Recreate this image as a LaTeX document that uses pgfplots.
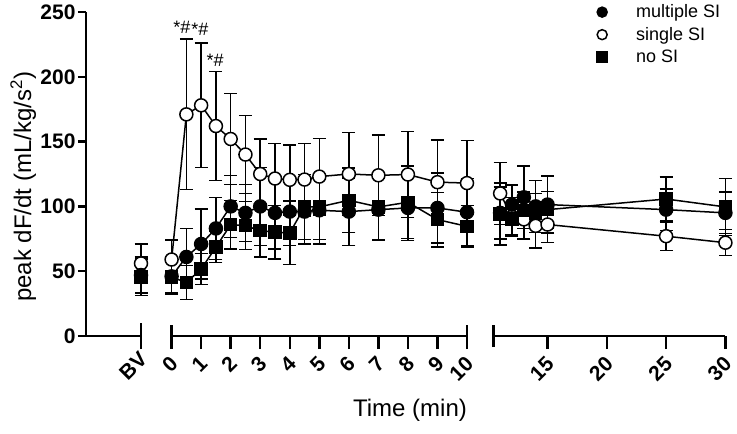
\documentclass[border=0pt]{standalone}
\usepackage{pgfplots}
\pgfplotsset{compat=1.18}
\usepackage{fontspec}
\setmainfont{Liberation Sans}
\begin{document}
\begin{tikzpicture}
\useasboundingbox (0pt,0pt) rectangle (737pt,434pt);
\pgfplotsset{
  seg/.style={
    scale only axis, height=324pt, ymin=0, ymax=250,
    anchor=south west, clip=false,
    axis line style={line width=2.5pt},
    tick style={line width=2.5pt, black},
    tick align=outside,
    major tick length=13pt,
    /pgf/number format/assume math mode=true,
    tick label style={font=\fontsize{21}{24}\selectfont\bfseries},
    xticklabel style={shift={(5pt,-9pt)}, rotate=45, anchor=east},
    extra x tick style={tick align=center, major tick length=22pt},
    extra x tick labels={},
    every axis plot/.append style={line width=1.5pt, black},
  },
  eb/.style={error bars/y dir=both, error bars/y explicit,
    error bars/error bar style={line width=1.5pt, black},
    error bars/error mark options={rotate=90, mark size=6.5pt, line width=1.5pt, black}},
  sSI/.style={mark=*, mark size=6.5pt, mark options={fill=white, draw=black, line width=1.5pt}},
  mSI/.style={mark=*, mark size=6.5pt, mark options={fill=black}},
  nSI/.style={mark=square*, mark size=6pt, mark options={fill=black}},
}
% ---------- segment 1 : BV ----------
\begin{axis}[seg, at={(86pt,98pt)}, width=55pt, xmin=0, xmax=1,
  axis x line*=bottom, axis y line*=left, major tick length=8pt,
  ytick={0,50,...,250}, xtick={1}, xticklabels={BV}, extra x ticks={1},
  extra x tick style={tick align=center, major tick length=26pt},
  yticklabel style={xshift=1pt},
  ylabel={peak dF/dt (mL/kg/s\textsuperscript{2})},
  ylabel style={font=\fontsize{24}{28}\selectfont, at={(axis description cs:-1.14,0.46)}, anchor=center}]
\addplot[sSI, eb, forget plot] table[x=x,y=y,y error=e] {
x y e
1 56 15
};
\addplot[mSI, eb, forget plot] table[x=x,y=y,y error=e] {
x y e
1 47 14
};
\addplot[nSI, eb, forget plot] table[x=x,y=y,y error=e] {
x y e
1 45.4 14
};
\end{axis}
% ---------- segment 2 : 0-10 min ----------
\begin{axis}[seg, at={(171.6pt,98pt)}, width=295.4pt, xmin=0, xmax=10,
  axis x line*=bottom, hide y axis,
  xtick={0,1,...,10}, extra x ticks={0,10},
  xlabel={Time (min)},
  xlabel style={font=\fontsize{24}{28}\selectfont, at={(axis description cs:0.807,-0.228)}, anchor=center}]
\addplot[sSI, eb, forget plot] table[x=x,y=y,y error=e] {
x y e
0 59 15
0.5 171 58
1 178 48
1.5 162 42
2 152 35
2.5 140 30
3 125 27
3.5 121.5 27
4 120.5 27
4.5 120.7 28
5 123 29.5
6 125 32
7 124 31
8 124.6 33
9 118.7 32.5
10 118 33
};
\addplot[mSI, eb, forget plot] table[x=x,y=y,y error=e] {
x y e
0 46 13
0.5 61 22
1 71 27
1.5 83 24
2 100 24
2.5 95 22
3 100 30
3.5 95 28
4 96 26
4.5 96 25
5 97 26
6 96 26
7 97.5 24
8 98.8 25
9 98.8 27
10 95.5 26
};
\addplot[nSI, eb, forget plot] table[x=x,y=y,y error=e] {
x y e
0 45.4 13
0.5 41.3 13
1 51.6 12
1.5 68.6 12
2 85.9 18.6
2.5 85.1 18.5
3 81.3 20.4
3.5 80.2 20.6
4 79.5 24.5
4.5 99.6 25
5 99.6 25
6 104.7 25
7 99.6 25
8 103.2 28
9 89.8 21
10 84.6 16
};
\node[font=\fontsize{18}{20}\selectfont] at (axis cs:0.35,238.4) {*\#};
\node[font=\fontsize{18}{20}\selectfont] at (axis cs:0.96,236.5) {*\#};
\node[font=\fontsize{18}{20}\selectfont] at (axis cs:1.47,213) {*\#};
\end{axis}
% ---------- segment 3 : 10.5-30 min ----------
\begin{axis}[seg, at={(493.6pt,98pt)}, width=231.8pt, xmin=10.45, xmax=30,
  axis x line*=bottom, hide y axis,
  xtick={15,20,25,30}, extra x ticks={10.45},
  legend style={draw=none, fill=none, at={(axis description cs:0.433,1.035)}, anchor=north west,
    font=\fontsize{18}{20}\selectfont, row sep=4pt, column sep=27pt},
  legend cell align=left]
\addlegendimage{only marks, mark=*, mark size=5pt, black}
\addlegendentry{multiple SI}
\addlegendimage{only marks, mark=*, mark size=5pt, mark options={fill=white, draw=black, line width=1.5pt}}
\addlegendentry{single SI}
\addlegendimage{only marks, mark=square*, mark size=5pt, black}
\addlegendentry{no SI}
\addplot[sSI, eb, forget plot] table[x=x,y=y,y error=e] {
x y e
11 110 24
12 92 15
13 90 15
14 85 17
15 86 14
25 77 11
30 72 10
};
\addplot[mSI, eb, forget plot] table[x=x,y=y,y error=e] {
x y e
11 95 20
12 101.4 15
13 107 24
14 100 20
15 101.4 22
25 97.5 16
30 95 16
};
\addplot[nSI, eb, forget plot] table[x=x,y=y,y error=e] {
x y e
11 94.2 24
12 90.3 12
13 97 14
14 95 15
15 97.5 14
25 105.7 17
30 99.6 22
};
\end{axis}
\end{tikzpicture}
\end{document}
